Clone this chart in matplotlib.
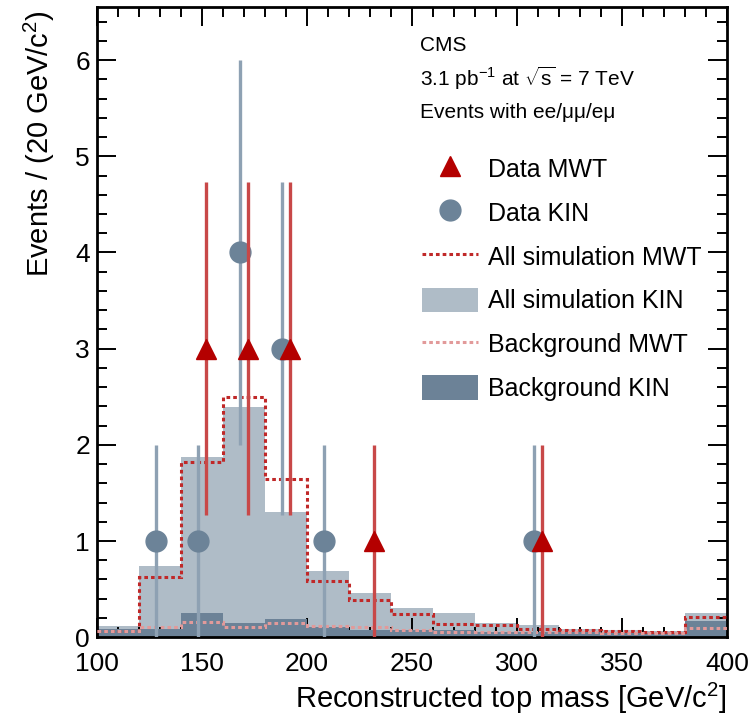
import numpy as np
import matplotlib
matplotlib.use("Agg")
import matplotlib.pyplot as plt
from matplotlib.lines import Line2D
from matplotlib.patches import Patch
from matplotlib.ticker import MultipleLocator

plt.rcParams["font.family"] = ["Liberation Sans", "DejaVu Sans"]
plt.rcParams["mathtext.fontset"] = "custom"
plt.rcParams["mathtext.rm"] = "Liberation Sans"
plt.rcParams["mathtext.it"] = "Liberation Sans:italic"

# 20 GeV bins, last bin holds overflow
bin_edges = np.arange(100, 420, 20)
sim_kin = [0.12, 0.74, 1.87, 2.39, 1.30, 0.69, 0.46, 0.30, 0.25, 0.15, 0.13, 0.09, 0.07, 0.06, 0.25]
sim_mwt = [0.06, 0.63, 1.82, 2.50, 1.64, 0.58, 0.39, 0.24, 0.14, 0.13, 0.09, 0.07, 0.06, 0.05, 0.21]
bkg_kin = [0.09, 0.09, 0.25, 0.15, 0.19, 0.11, 0.08, 0.08, 0.08, 0.05, 0.05, 0.05, 0.04, 0.04, 0.17]
bkg_mwt = [0.06, 0.11, 0.16, 0.11, 0.15, 0.12, 0.11, 0.08, 0.05, 0.05, 0.05, 0.05, 0.04, 0.04, 0.10]

# data points (shifted a little left/right of the bin centre)
kin_mass = [128, 148, 168, 188, 208, 308]
kin_events = [1, 1, 4, 3, 1, 1]
mwt_mass = [152, 172, 192, 232, 312]
mwt_events = [3, 3, 3, 1, 1]

c_light = "#afbcc7"
c_dark = "#6c8297"
c_red = "#b40000"
c_red_line = "#c84848"
c_slate = "#6c8398"
c_slate_line = "#8ea1b3"
dots = (0, (1.2, 1.0))

fig = plt.figure(figsize=(7.51, 7.2), dpi=100)
ax = fig.add_axes([0.129, 0.115, 0.839, 0.875])

ax.stairs(sim_kin, bin_edges, fill=True, color=c_light, zorder=1)
ax.stairs(bkg_kin, bin_edges, fill=True, color=c_dark, zorder=2)
ax.stairs(sim_mwt, bin_edges, baseline=None, color="#c02828", lw=2.2,
          linestyle=dots, zorder=3)
ax.stairs(bkg_mwt, bin_edges, baseline=None, color="#e29a9a", lw=2.2,
          linestyle=dots, zorder=3)

ax.errorbar(kin_mass, kin_events, yerr=np.sqrt(kin_events), fmt="o", ms=15,
            color=c_slate, ecolor=c_slate_line, elinewidth=2.4, capsize=0, zorder=4)
ax.errorbar(mwt_mass, mwt_events, yerr=np.sqrt(mwt_events), fmt="^", ms=14,
            color=c_red, ecolor=c_red_line, elinewidth=2.4, capsize=0, zorder=5)

ax.set_xlim(100, 400)
ax.set_ylim(0, 6.55)
ax.xaxis.set_major_locator(MultipleLocator(50))
ax.xaxis.set_minor_locator(MultipleLocator(10))
ax.yaxis.set_major_locator(MultipleLocator(1))
ax.yaxis.set_minor_locator(MultipleLocator(0.2))
ax.tick_params(which="both", direction="in", top=True, right=True, width=1.4)
ax.tick_params(which="major", length=14)
ax.tick_params(which="minor", length=7)
ax.tick_params(axis="x", which="major", labelsize=19, pad=11)
ax.tick_params(axis="y", which="major", labelsize=19, pad=5)
for s in ax.spines.values():
    s.set_linewidth(2)

ax.set_xlabel("Reconstructed top mass [GeV/c$^{2}$]", fontsize=21, loc="right")
ax.xaxis.set_label_coords(1.0, -0.07)
ax.set_ylabel("Events / (20 GeV/c$^{2}$)", fontsize=21, loc="top")
ax.yaxis.set_label_coords(-0.063, 0.995)

ax.text(0.513, 0.94, "CMS", transform=ax.transAxes, fontsize=15, va="center")
ax.text(0.513, 0.887, "3.1 pb$^{-1}$ at $\\sqrt{\\mathrm{s}}$ = 7 TeV", transform=ax.transAxes,
        fontsize=15, va="center")
ax.text(0.513, 0.833, "Events with ee/μμ/eμ", transform=ax.transAxes,
        fontsize=15, va="center")

handles = [
    Line2D([], [], marker="^", ms=14, color=c_red, linestyle="none"),
    Line2D([], [], marker="o", ms=15, color=c_slate, linestyle="none"),
    Line2D([], [], color="#c02828", lw=2.2, linestyle=dots),
    Patch(facecolor=c_light, edgecolor="none"),
    Line2D([], [], color="#e29a9a", lw=2.2, linestyle=dots),
    Patch(facecolor=c_dark, edgecolor="none"),
]
labels = ["Data MWT", "Data KIN", "All simulation MWT", "All simulation KIN",
          "Background MWT", "Background KIN"]
ax.legend(handles, labels, loc="upper left", bbox_to_anchor=(0.516, 0.764),
          frameon=False, fontsize=18, borderpad=0, borderaxespad=0,
          handlelength=2.25, handleheight=1.15, handletextpad=0.4, labelspacing=0.72)

fig.savefig("out.png", dpi=100)
